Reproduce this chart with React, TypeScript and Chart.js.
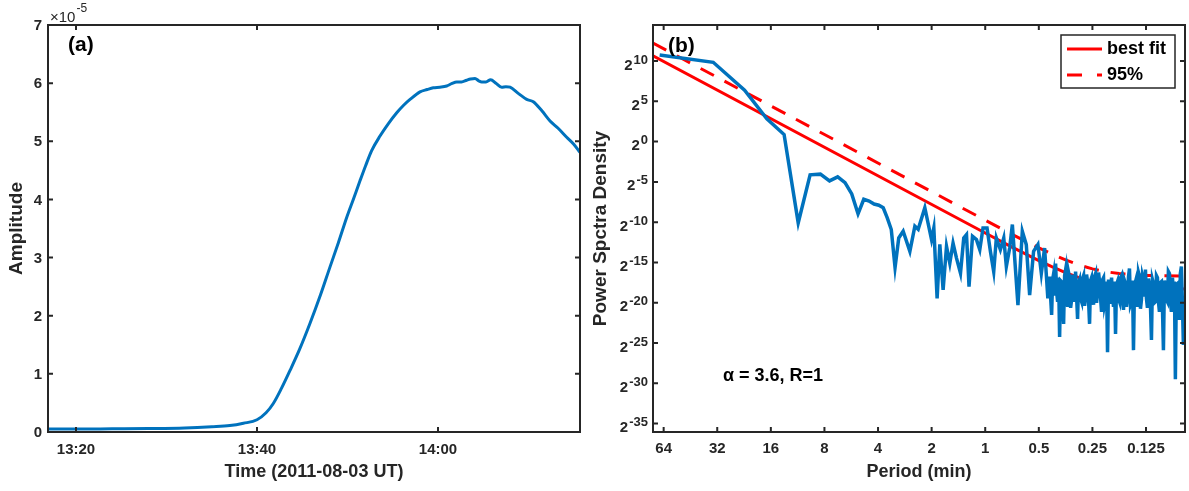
import React, { useEffect, useRef } from "react";
import { Chart, registerables } from "chart.js";

Chart.register(...registerables);

const FONT = '"Liberation Sans", Arial, Helvetica, sans-serif';
const AXIS = "#262626";
const BLUE = "#0072BD";
const RED = "#FF0000";

// ---------- Panel (a): light curve ----------
// minutes after 13:00 UT
const timeMinutes = [
  16.9, 20, 24, 28, 32, 35, 37, 38.5, 40, 41, 41.8, 42.7, 43.65, 44.7, 45.86, 47, 48.07, 49, 49.91, 50.64,
  51.38, 52.0, 52.67, 53.59, 54.5, 55.44, 56.2, 56.91, 58.01, 58.8, 59.48, 60.2, 60.96, 61.5, 62.07, 62.6,
  63.17, 63.6, 64.09, 64.5, 64.83, 65.3, 65.82, 66.4, 67.04, 67.5, 67.96, 68.9, 69.8, 70.53, 71.5, 72.38,
  73.3, 74.22, 75.0, 75.69,
];
// amplitude in units of 1e-5
const amplitudeE5 = [
  0.05, 0.05, 0.055, 0.06, 0.07, 0.09, 0.11, 0.15, 0.21, 0.33, 0.49, 0.75, 1.06, 1.42, 1.87, 2.35, 2.84, 3.26, 3.69, 4.0,
  4.32, 4.58, 4.84, 5.09, 5.3, 5.49, 5.62, 5.72, 5.85, 5.89, 5.92, 5.93, 5.95, 5.99, 6.02, 6.02,
  6.05, 6.07, 6.08, 6.04, 6.02, 6.02, 6.06, 6.0, 5.93, 5.94, 5.93, 5.82, 5.72, 5.68, 5.52, 5.35,
  5.22, 5.07, 4.95, 4.81,
];
const timeTicks = [20, 40, 60];
const timeTickLabels = ["13:20", "13:40", "14:00"];
const ampTicks = [0, 1, 2, 3, 4, 5, 6, 7];

// ---------- Panel (b): power spectrum ----------
const specPeriods = [
  67.4, 33.7, 22.47, 16.85, 13.48, 11.23, 9.63, 8.43, 7.49, 6.74, 6.13, 5.62, 5.18, 4.81, 4.49, 4.21, 3.96, 3.74, 3.55, 3.37, 3.21, 3.06,
  2.89, 2.65, 2.484, 2.38, 2.184, 2.003, 1.944, 1.863, 1.799, 1.724,
  1.65, 1.581, 1.516, 1.45, 1.377, 1.32, 1.274, 1.233, 1.179, 1.12,
  1.073, 1.029, 0.977, 0.935, 0.896, 0.866, 0.822, 0.787, 0.761, 0.729,
  0.704, 0.655, 0.619, 0.588, 0.563, 0.535, 0.506, 0.484, 0.464, 0.445,
  0.4348, 0.4237, 0.4129, 0.4024, 0.3921, 0.3821, 0.3724, 0.3629, 0.3536, 0.3446,
  0.3358, 0.3273, 0.3189, 0.3108, 0.3029, 0.2951, 0.2876, 0.2803, 0.2731, 0.2662,
  0.2594, 0.2528, 0.2463, 0.24, 0.2339, 0.228, 0.2221, 0.2165, 0.211, 0.2056,
  0.2003, 0.1952, 0.1903, 0.1854, 0.1807, 0.1761, 0.1716, 0.1672, 0.163, 0.1588,
  0.1548, 0.1508, 0.147, 0.1432, 0.1396, 0.136, 0.1326, 0.1292, 0.1259, 0.1227,
  0.1196, 0.1165, 0.1135, 0.1106, 0.1078, 0.1051, 0.1024, 0.0998, 0.0972, 0.0948,
  0.0923, 0.09, 0.0877, 0.0855, 0.0833, 0.0812, 0.0791, 0.0771,
];
// log2 of power spectral density
const specLog2Psd = [
  10.75, 9.84, 6.375, 2.84, 0.875, -10.09, -4.125, -4.04, -4.875, -4.375, -5.09, -6.5, -8.96, -7.16, -7.375, -7.75, -7.9, -8.21, -9.46, -10.91, -15.625, -11.96,
  -11.13, -13.63, -10.5, -10.88, -8.21, -12.16, -10.71, -19.46, -12.75, -18.41,
  -13.0, -15.09, -12.59, -14.46, -16.34, -11.96, -11.54, -18.0, -11.75, -12.16,
  -13.41, -10.71, -10.71, -13.63, -16.13, -11.96, -13.41, -11.96, -15.5, -13.21,
  -10.29, -20.29, -11.13, -12.79, -19.04, -13.63, -12.79, -16.34, -13.21, -19.46,
  -16.75, -21.5, -16.38, -15.13, -19.88, -24.25, -17.38, -22.63, -15.88, -20.5,
  -16.88, -19.63, -17.63, -16.13, -22.0, -17.13, -19.88, -16.63, -19.38, -17.38,
  -22.63, -16.88, -20.25, -16.38, -18.63, -17.38, -21.13, -16.88, -19.63, -26.13,
  -18.0, -16.88, -20.5, -23.88, -17.38, -19.88, -16.63, -20.88, -17.63, -19.38,
  -15.75, -19.88, -25.88, -17.38, -20.5, -16.75, -19.63, -17.13, -15.88, -20.63,
  -17.75, -24.63, -17.63, -19.88, -16.88, -21.13, -17.38, -25.88, -18.0, -19.88,
  -16.38, -21.13, -18.63, -29.5, -17.63, -22.13, -15.5, -25.25,
];
// further high-frequency samples
const specPeriodsFill = [
  0.4292, 0.4183, 0.4076, 0.3972, 0.3871, 0.3772, 0.3676, 0.3582, 0.3491, 0.3402,
  0.3315, 0.3231, 0.3148, 0.3068, 0.299, 0.2913, 0.2839, 0.2767, 0.2696, 0.2628,
  0.2561, 0.2496, 0.2431, 0.2369, 0.2309, 0.2251, 0.2193, 0.2137, 0.2083, 0.203,
  0.1977, 0.1927, 0.1879, 0.183, 0.1784, 0.1738, 0.1694, 0.1651, 0.1609, 0.1568,
  0.1528, 0.1489, 0.1451, 0.1414, 0.1378, 0.1343, 0.1309, 0.1275, 0.1243, 0.1211,
  0.1181, 0.115, 0.112, 0.1092, 0.1064, 0.1038, 0.1011, 0.0985, 0.096, 0.0936,
  0.0911, 0.0888, 0.0866, 0.0844, 0.0822, 0.0802, 0.0781,
];
const specLog2PsdFill = [
  -19.38, -17.13, -19.13, -18.63, -16.88, -17.25, -20.13, -16.63, -18.88, -16.25,
  -20.63, -16.5, -19.88, -19.25, -17.5, -19.5, -17.0, -20.38, -16.5, -19.75,
  -17.25, -19.0, -16.75, -20.0, -16.25, -19.38, -17.13, -20.25, -17.38, -17.13,
  -20.13, -19.13, -17.38, -17.75, -19.5, -16.88, -19.88, -17.25, -20.5, -16.75,
  -20.25, -17.25, -17.88, -19.75, -16.25, -20.75, -16.63, -19.25, -19.5, -17.0,
  -20.13, -17.13, -20.0, -16.63, -19.88, -17.5, -20.38, -17.25, -19.63, -16.13,
  -19.88, -16.88, -17.38, -17.75, -20.25, -16.38, -19.88,
];
const fitPeriods = [73.45, 1, 0.707, 0.5, 0.42, 0.354, 0.3, 0.25, 0.21, 0.177, 0.125, 0.0755];
const bestFitLog2 = [10.65, -11.34, -13.09, -14.77, -15.56, -16.27, -16.86, -17.38, -17.73, -17.96, -18.19, -18.28];
const conf95Log2 = [12.23, -9.76, -11.51, -13.19, -13.98, -14.69, -15.28, -15.8, -16.15, -16.38, -16.61, -16.7];
const periodTicks = [64, 32, 16, 8, 4, 2, 1, 0.5, 0.25, 0.125];
const periodTickLabels = ["64", "32", "16", "8", "4", "2", "1", "0.5", "0.25", "0.125"];
const psdTickExps = [10, 5, 0, -5, -10, -15, -20, -25, -30, -35];

function drawBox(ctx: CanvasRenderingContext2D, a: any) {
  ctx.strokeStyle = AXIS;
  ctx.lineWidth = 2;
  ctx.strokeRect(a.left, a.top, a.right - a.left, a.bottom - a.top);
}

function PanelA() {
  const ref = useRef<HTMLCanvasElement>(null);
  useEffect(() => {
    const deco = {
      id: "decoA",
      afterDraw(chart: any) {
        const { ctx, chartArea: a, scales } = chart;
        const xs = scales.x;
        const ys = scales.y;
        ctx.save();
        drawBox(ctx, a);
        ctx.beginPath();
        for (const t of timeTicks) {
          const px = xs.getPixelForValue(t);
          ctx.moveTo(px, a.bottom);
          ctx.lineTo(px, a.bottom - 5);
          ctx.moveTo(px, a.top);
          ctx.lineTo(px, a.top + 5);
        }
        for (const v of ampTicks) {
          const py = ys.getPixelForValue(v);
          ctx.moveTo(a.left, py);
          ctx.lineTo(a.left + 5, py);
          ctx.moveTo(a.right, py);
          ctx.lineTo(a.right - 5, py);
        }
        ctx.stroke();
        ctx.fillStyle = AXIS;
        ctx.font = `bold 15px ${FONT}`;
        ctx.textAlign = "center";
        ctx.textBaseline = "middle";
        timeTicks.forEach((t, i) => ctx.fillText(timeTickLabels[i], xs.getPixelForValue(t), a.bottom + 18));
        ctx.textAlign = "right";
        ampTicks.forEach((v) => ctx.fillText(String(v), a.left - 6, ys.getPixelForValue(v) + 1));
        ctx.font = `bold 18px ${FONT}`;
        ctx.textAlign = "center";
        ctx.fillText("Time (2011-08-03 UT)", (a.left + a.right) / 2, 472);
        ctx.save();
        ctx.translate(17, (a.top + a.bottom) / 2);
        ctx.rotate(-Math.PI / 2);
        ctx.font = `bold 19px ${FONT}`;
        ctx.fillText("Amplitude", 0, 0);
        ctx.restore();
        ctx.textAlign = "left";
        ctx.textBaseline = "alphabetic";
        ctx.font = `15px ${FONT}`;
        ctx.fillText("\u00D710", 50, 22);
        const w10 = ctx.measureText("\u00D710").width;
        ctx.font = `12px ${FONT}`;
        ctx.fillText("-5", 50 + w10 + 1, 12);
        ctx.fillStyle = "#000";
        ctx.font = `bold 21px ${FONT}`;
        ctx.textBaseline = "middle";
        ctx.fillText("(a)", 68, 45);
        ctx.restore();
      },
    };
    const chart = new Chart(ref.current!, {
      type: "line",
      data: {
        datasets: [
          {
            data: timeMinutes.map((t, i) => ({ x: t, y: amplitudeE5[i] })),
            borderColor: BLUE,
            borderWidth: 3,
            pointRadius: 0,
            cubicInterpolationMode: "monotone",
            fill: false,
          },
        ],
      },
      options: {
        responsive: false,
        animation: false,
        events: [],
        layout: { padding: { left: 48, right: 20, top: 25, bottom: 59 } },
        plugins: { legend: { display: false }, tooltip: { enabled: false } },
        scales: {
          x: { type: "linear", display: false, min: 16.906, max: 75.69, bounds: "data" },
          y: { type: "linear", display: false, min: 0, max: 7, bounds: "data" },
        },
      },
      plugins: [deco],
    } as any);
    return () => chart.destroy();
  }, []);
  return <canvas ref={ref} width={600} height={491} style={{ position: "absolute", left: 0, top: 0 }} />;
}

function PanelB() {
  const ref = useRef<HTMLCanvasElement>(null);
  useEffect(() => {
    const spectrum = specPeriods
      .map((p, i) => ({ x: p, y: Math.pow(2, specLog2Psd[i]) }))
      .concat(specPeriodsFill.map((p, i) => ({ x: p, y: Math.pow(2, specLog2PsdFill[i]) })))
      .sort((u, v) => v.x - u.x);
    const deco = {
      id: "decoB",
      afterDraw(chart: any) {
        const { ctx, chartArea: a, scales } = chart;
        const xs = scales.x;
        const ys = scales.y;
        ctx.save();
        drawBox(ctx, a);
        ctx.beginPath();
        for (const p of periodTicks) {
          const px = xs.getPixelForValue(p);
          ctx.moveTo(px, a.bottom);
          ctx.lineTo(px, a.bottom - 5);
          ctx.moveTo(px, a.top);
          ctx.lineTo(px, a.top + 5);
        }
        for (const e of psdTickExps) {
          const py = ys.getPixelForValue(Math.pow(2, e));
          ctx.moveTo(a.left, py);
          ctx.lineTo(a.left + 5, py);
          ctx.moveTo(a.right, py);
          ctx.lineTo(a.right - 5, py);
        }
        ctx.stroke();
        ctx.fillStyle = AXIS;
        ctx.font = `bold 15px ${FONT}`;
        ctx.textAlign = "center";
        ctx.textBaseline = "middle";
        periodTicks.forEach((p, i) => ctx.fillText(periodTickLabels[i], xs.getPixelForValue(p), a.bottom + 17));
        ctx.textAlign = "left";
        ctx.textBaseline = "alphabetic";
        for (const e of psdTickExps) {
          const py = ys.getPixelForValue(Math.pow(2, e));
          const ex = String(e);
          ctx.font = `bold 15px ${FONT}`;
          const wb = ctx.measureText("2").width;
          ctx.font = `bold 13px ${FONT}`;
          const we = ctx.measureText(ex).width;
          const x0 = a.left - 5 - wb - we - 1;
          ctx.font = `bold 15px ${FONT}`;
          ctx.fillText("2", x0, py + 8.5);
          ctx.font = `bold 13px ${FONT}`;
          ctx.fillText(ex, x0 + wb + 1, py + 2.5);
        }
        ctx.font = `bold 18px ${FONT}`;
        ctx.textAlign = "center";
        ctx.textBaseline = "middle";
        ctx.fillText("Period (min)", (a.left + a.right) / 2, 472);
        ctx.save();
        ctx.translate(16, (a.top + a.bottom) / 2);
        ctx.rotate(-Math.PI / 2);
        ctx.font = `bold 19px ${FONT}`;
        ctx.fillText("Power Spctra Density", 0, 0);
        ctx.restore();
        ctx.fillStyle = "#000";
        ctx.textAlign = "left";
        ctx.font = `bold 21px ${FONT}`;
        ctx.fillText("(b)", 83, 46);
        ctx.font = `bold 18px ${FONT}`;
        ctx.fillText("\u03B1 = 3.6, R=1", 138, 376);
        // legend
        const lx = 476, ly = 35, lw = 114, lh = 53;
        ctx.fillStyle = "#fff";
        ctx.fillRect(lx, ly, lw, lh);
        ctx.strokeStyle = AXIS;
        ctx.lineWidth = 1.5;
        ctx.strokeRect(lx, ly, lw, lh);
        ctx.strokeStyle = RED;
        ctx.lineWidth = 3;
        ctx.beginPath();
        ctx.moveTo(lx + 6, 49);
        ctx.lineTo(lx + 41, 49);
        ctx.stroke();
        ctx.setLineDash([15, 15]);
        ctx.beginPath();
        ctx.moveTo(lx + 6, 75);
        ctx.lineTo(lx + 41, 75);
        ctx.stroke();
        ctx.setLineDash([]);
        ctx.fillStyle = "#000";
        ctx.font = `bold 18px ${FONT}`;
        ctx.fillText("best fit", lx + 46, 49);
        ctx.fillText("95%", lx + 46, 75);
        ctx.restore();
      },
    };
    const chart = new Chart(ref.current!, {
      type: "line",
      data: {
        datasets: [
          {
            data: spectrum,
            borderColor: BLUE,
            borderWidth: 3.5,
            pointRadius: 0,
            tension: 0,
            fill: false,
          },
          {
            data: fitPeriods.map((p, i) => ({ x: p, y: Math.pow(2, bestFitLog2[i]) })),
            borderColor: RED,
            borderWidth: 3,
            pointRadius: 0,
            tension: 0,
            fill: false,
          },
          {
            data: fitPeriods.map((p, i) => ({ x: p, y: Math.pow(2, conf95Log2[i]) })),
            borderColor: RED,
            borderWidth: 3,
            borderDash: [15, 12],
            pointRadius: 0,
            tension: 0,
            fill: false,
          },
        ],
      },
      options: {
        responsive: false,
        animation: false,
        events: [],
        layout: { padding: { left: 68, right: 4, top: 25, bottom: 59 } },
        plugins: { legend: { display: false }, tooltip: { enabled: false } },
        scales: {
          x: { type: "logarithmic", reverse: true, display: false, min: 0.0755, max: 73.45, bounds: "data" },
          y: { type: "logarithmic", display: false, min: Math.pow(2, -36.04), max: Math.pow(2, 14.47), bounds: "data" },
        },
      },
      plugins: [deco],
    } as any);
    return () => chart.destroy();
  }, []);
  return <canvas ref={ref} width={604} height={491} style={{ position: "absolute", left: 585, top: 0 }} />;
}

export default function App() {
  return (
    <div style={{ position: "fixed", left: 0, top: 0, width: 1189, height: 491, background: "#fff", overflow: "hidden" }}>
      <PanelA />
      <PanelB />
    </div>
  );
}
